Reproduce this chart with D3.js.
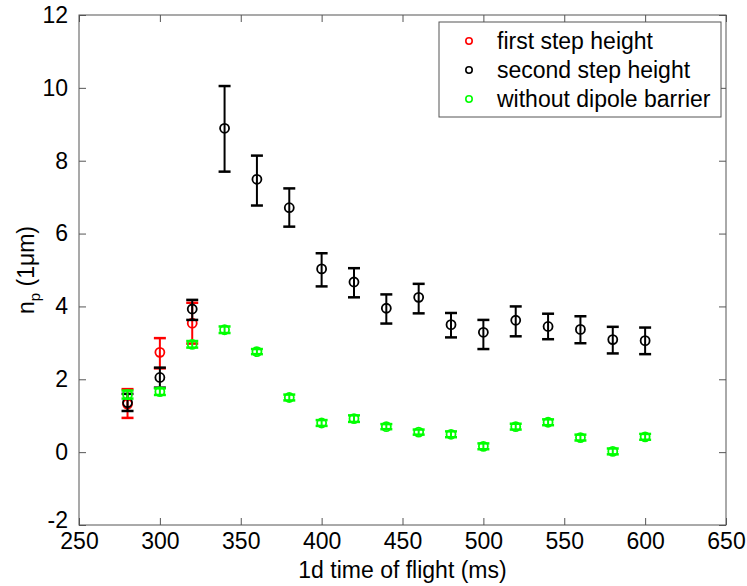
<!DOCTYPE html>
<html>
<head>
<meta charset="utf-8">
<script src="https://cdn.jsdelivr.net/npm/d3@7"></script>
<style>
  body { margin: 0; background: #fff; }
  text { font-family: "Liberation Sans", Arial, sans-serif; }
</style>
</head>
<body>
<div id="canvas"></div>
<script>
var margin = {top: 15, right: 21, bottom: 61, left: 79},
    width = 747 - margin.left - margin.right,
    height = 586 - margin.top - margin.bottom;

// time of flight (ms)
const timesFirst = [280, 300, 320]
const timesAll = [280, 300, 320, 340, 360, 380, 400, 420, 440, 460, 480, 500, 520, 540, 560, 580, 600]

// first step height (red)
const firstVal = [1.32, 2.74, 3.54]
const firstLo  = [0.94, 2.30, 2.98]
const firstHi  = [1.73, 3.13, 4.10]

// second step height (black)
const secondVal = [1.36, 2.05, 3.93, 8.89, 7.49, 6.71, 5.03, 4.67, 3.95, 4.25, 3.50, 3.29, 3.62, 3.45, 3.37, 3.09, 3.06]
const secondLo  = [1.13, 1.77, 3.63, 7.70, 6.77, 6.19, 4.55, 4.25, 3.53, 3.81, 3.15, 2.83, 3.18, 3.10, 2.99, 2.71, 2.69]
const secondHi  = [1.60, 2.32, 4.18, 10.05, 8.14, 7.24, 5.46, 5.05, 4.33, 4.62, 3.82, 3.63, 4.00, 3.80, 3.73, 3.44, 3.42]

// without dipole barrier (green)
const greenVal = [1.58, 1.66, 2.96, 3.36, 2.76, 1.50, 0.80, 0.92, 0.70, 0.55, 0.49, 0.16, 0.70, 0.82, 0.40, 0.02, 0.42]
const greenErr = [0.11, 0.09, 0.09, 0.09, 0.07, 0.08, 0.08, 0.09, 0.07, 0.07, 0.08, 0.08, 0.08, 0.08, 0.08, 0.08, 0.08]

const xTicks = [250, 300, 350, 400, 450, 500, 550, 600, 650]
const yTicks = [-2, 0, 2, 4, 6, 8, 10, 12]
const legendLabels = ["first step height", "second step height", "without dipole barrier"]
const legendColors = ["#ff0000", "#000000", "#00ff00"]

const svg = d3.select("#canvas")
    .append("svg")
    .attr("width", 747)
    .attr("height", 586)

const canvas = svg.append("g")
    .attr("transform", "translate(" + margin.left + "," + margin.top + ")")

const xScale = d3.scaleLinear().domain([250, 650]).range([0, width])
const yScale = d3.scaleLinear().domain([-2, 12]).range([height, 0])

const axisColor = "#555"
const tickLen = 7
const fontSize = "23px"

// box
canvas.append("rect")
    .attr("width", width).attr("height", height)
    .attr("fill", "none").attr("stroke", axisColor).attr("stroke-width", 1)

// axes (ticks pointing inward, on all four sides)
const gx = canvas.append("g")
    .attr("transform", "translate(0," + height + ")")
    .call(d3.axisBottom(xScale).tickValues(xTicks).tickSize(-tickLen).tickPadding(12).tickFormat(d => String(d)))
const gxTop = canvas.append("g")
    .call(d3.axisTop(xScale).tickValues(xTicks).tickSize(-tickLen).tickFormat(""))
const gy = canvas.append("g")
    .call(d3.axisLeft(yScale).tickValues(yTicks).tickSize(-tickLen).tickPadding(11).tickFormat(d => String(d)))
const gyRight = canvas.append("g")
    .attr("transform", "translate(" + width + ",0)")
    .call(d3.axisRight(yScale).tickValues(yTicks).tickSize(-tickLen).tickFormat(""))

;[gx, gxTop, gy, gyRight].forEach(g => {
    g.select(".domain").remove()
    g.selectAll(".tick line").attr("stroke", axisColor)
    g.selectAll(".tick text")
        .attr("fill", "#000")
        .style("font-size", fontSize)
        .style("font-family", "'Liberation Sans', Arial, sans-serif")
})
gx.selectAll(".tick text").attr("dy", "0.5em")
// the -2 label sits just above the bottom-left corner, as in the original
gy.selectAll(".tick text").filter(d => d === -2).attr("dy", "0.1em")

// axis titles
svg.append("text")
    .attr("x", margin.left + width / 2)
    .attr("y", 578)
    .attr("text-anchor", "middle")
    .style("font-size", fontSize)
    .text("1d time of flight (ms)")

const yLab = svg.append("text")
    .attr("transform", "translate(34," + (margin.top + height / 2) + ") rotate(-90)")
    .attr("text-anchor", "middle")
    .style("font-size", fontSize)
yLab.append("tspan").text("n")
yLab.append("tspan").attr("dy", 6).style("font-size", "15px").text("p")
yLab.append("tspan").attr("dy", -6).text(" (1\u03bcm)")

// error bar series
function drawSeries(xs, vals, lo, hi, color) {
    const pts = xs.map((x, i) => ({x: x, v: vals[i], lo: lo[i], hi: hi[i]}))
    const g = canvas.append("g")
    const capW = 6
    g.selectAll("line.bar").data(pts).join("line")
        .attr("x1", d => xScale(d.x)).attr("x2", d => xScale(d.x))
        .attr("y1", d => yScale(d.lo)).attr("y2", d => yScale(d.hi))
        .attr("stroke", color).attr("stroke-width", 2)
    g.selectAll("line.capTop").data(pts).join("line")
        .attr("x1", d => xScale(d.x) - capW).attr("x2", d => xScale(d.x) + capW)
        .attr("y1", d => yScale(d.hi)).attr("y2", d => yScale(d.hi))
        .attr("stroke", color).attr("stroke-width", 2.5)
    g.selectAll("line.capBot").data(pts).join("line")
        .attr("x1", d => xScale(d.x) - capW).attr("x2", d => xScale(d.x) + capW)
        .attr("y1", d => yScale(d.lo)).attr("y2", d => yScale(d.lo))
        .attr("stroke", color).attr("stroke-width", 2.5)
    g.selectAll("circle").data(pts).join("circle")
        .attr("cx", d => xScale(d.x)).attr("cy", d => yScale(d.v))
        .attr("r", 4.5)
        .attr("fill", "none").attr("stroke", color).attr("stroke-width", 1.8)
}

drawSeries(timesFirst, firstVal, firstLo, firstHi, "#ff0000")
drawSeries(timesAll, secondVal, secondLo, secondHi, "#000000")
drawSeries(timesAll, greenVal,
    greenVal.map((v, i) => v - greenErr[i]),
    greenVal.map((v, i) => v + greenErr[i]), "#00ff00")

// legend
const legend = svg.append("g").attr("transform", "translate(439,22)")
legend.append("rect")
    .attr("width", 282).attr("height", 95)
    .attr("fill", "#fff").attr("stroke", axisColor).attr("stroke-width", 1)
const rows = legend.selectAll("g.row").data(legendLabels).join("g")
    .attr("transform", (d, i) => "translate(0," + (19 + i * 29) + ")")
rows.append("circle")
    .attr("cx", 30).attr("cy", 0).attr("r", 3.2)
    .attr("fill", "none").attr("stroke", (d, i) => legendColors[i]).attr("stroke-width", 1.6)
rows.append("text")
    .attr("x", 58).attr("y", 0).attr("dy", "0.35em")
    .style("font-size", fontSize)
    .text(d => d)
</script>
</body>
</html>
